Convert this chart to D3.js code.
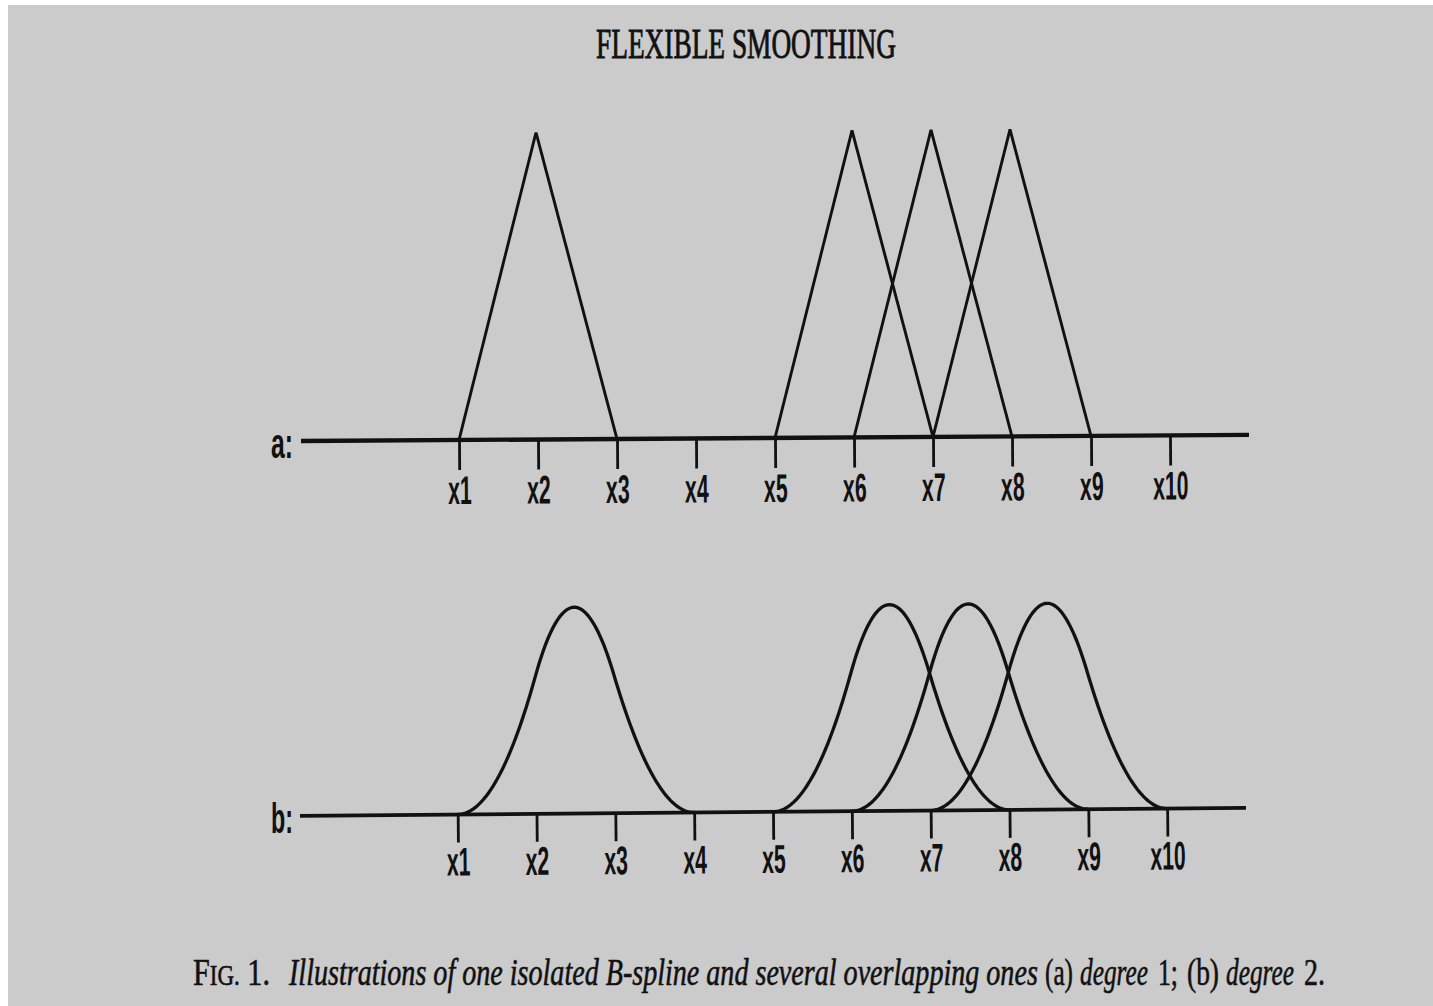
<!DOCTYPE html>
<html>
<head>
<meta charset="utf-8">
<script src="https://cdn.jsdelivr.net/npm/d3@7"></script>
<style>
  body { margin: 0; background: #ffffff; }
  svg { display: block; }
</style>
</head>
<body>
<div id="chart"></div>
<script>
// knots and their labels
const knots = [1, 2, 3, 4, 5, 6, 7, 8, 9, 10];
const knotLabels = ["x1", "x2", "x3", "x4", "x5", "x6", "x7", "x8", "x9", "x10"];
const axisDomain = [-1, 11];

// first knot of each B-spline drawn (one isolated, three overlapping)
const splineStartsA = [1, 5, 6, 7];
const splineStartsB = [1, 5, 6, 7];
const degreeA = 1;
const degreeB = 2;

const panelLabels = ["a:", "b:"];
const titleText = "FLEXIBLE SMOOTHING";

const width = 1433, height = 1006;
const ink = "#111";

const svg = d3.select("#chart").append("svg")
    .attr("width", width)
    .attr("height", height);

// scanned page background
svg.append("rect")
    .attr("x", 8)
    .attr("y", 5)
    .attr("width", width - 8)
    .attr("height", height - 5)
    .attr("fill", "#cbcbcb");

// squeeze a text horizontally so it spans [left, right]
function fitText(sel, left, right, baseY) {
    sel.attr("x", 0).attr("y", 0);
    const w = sel.node().getComputedTextLength();
    sel.attr("transform", `translate(${left}, ${baseY}) scale(${(right - left) / w}, 1)`);
}

// Cox-de Boor recursion on uniform integer knots
function basis(i, p, t) {
    if (p === 0) return (t >= i && t < i + 1) ? 1 : 0;
    return (t - i) / p * basis(i, p - 1, t) + (i + p + 1 - t) / p * basis(i + 1, p - 1, t);
}

function drawPanel(cfg) {
    const x = d3.scaleLinear().domain(axisDomain).range([cfg.left, cfg.right]);
    const y = d3.scaleLinear().domain([0, 1]).range([0, -cfg.unitHeight]);

    // slight tilt of the scanned page
    const g = svg.append("g")
        .attr("transform", `translate(0, ${cfg.baseY}) rotate(${cfg.tilt}, ${x(1)}, 0)`);

    // ticks + labels
    const axis = d3.axisBottom(x)
        .tickValues(knots)
        .tickSize(cfg.tickLen)
        .tickFormat((d, i) => knotLabels[i]);

    const ax = g.append("g").call(axis);
    ax.select(".domain").remove();
    ax.selectAll(".tick line")
        .attr("stroke", ink)
        .attr("stroke-width", 2.8);
    ax.selectAll(".tick text")
        .attr("y", cfg.labelY)
        .attr("dy", 0)
        .attr("fill", ink)
        .attr("font-family", "Liberation Sans, Arial, sans-serif")
        .attr("font-weight", "bold")
        .attr("font-size", "40px")
        .attr("transform", "scale(0.53, 1)");

    // the baseline
    g.append("line")
        .attr("x1", x(axisDomain[0]))
        .attr("x2", x(axisDomain[1]))
        .attr("y1", 0)
        .attr("y2", 0)
        .attr("stroke", ink)
        .attr("stroke-width", cfg.axisWidth);

    // B-splines
    const line = d3.line()
        .x(d => x(d[0]))
        .y(d => y(d[1]));

    cfg.starts.forEach(s => {
        const pts = [];
        const n = 40 * (cfg.degree + 1);
        for (let k = 0; k <= n; k++) {
            const t = s + k * (cfg.degree + 1) / n;
            pts.push([t, basis(s, cfg.degree, t)]);
        }
        g.append("path")
            .attr("d", line(pts))
            .attr("fill", "none")
            .attr("stroke", ink)
            .attr("stroke-width", cfg.lineWidth)
            .attr("stroke-linejoin", "miter");
    });

    // panel label
    const lab = svg.append("text")
        .attr("fill", ink)
        .attr("font-family", "Liberation Sans, Arial, sans-serif")
        .attr("font-weight", "bold")
        .attr("font-size", "42px")
        .text(cfg.label);
    fitText(lab, 271, 293, cfg.baseY + cfg.panelLabelDy);
}

drawPanel({
    left: 301, right: 1249, baseY: 440, tilt: -0.37, unitHeight: 307,
    tickLen: 30, labelY: 64, axisWidth: 4.4, lineWidth: 2.9,
    starts: splineStartsA, degree: degreeA, label: panelLabels[0], panelLabelDy: 18
});

drawPanel({
    left: 300, right: 1246, baseY: 814.5, tilt: -0.48, unitHeight: 275,
    tickLen: 28, labelY: 61, axisWidth: 3.8, lineWidth: 3.3,
    starts: splineStartsB, degree: degreeB, label: panelLabels[1], panelLabelDy: 18
});

// title
const title = svg.append("text")
    .attr("fill", ink)
    .attr("stroke", ink)
    .attr("stroke-width", 0.9)
    .attr("font-family", "Liberation Serif, Times New Roman, serif")
    .attr("font-size", "42px")
    .text(titleText);
fitText(title, 596, 896, 58);

// caption pieces: text, style, left, right
const captionParts = [
    ["Illustrations of one isolated B-spline and several overlapping ones", "italic", 289, 1038],
    ["(a)", "normal", 1045, 1073],
    ["degree", "italic", 1080, 1148],
    ["1;", "normal", 1158, 1178],
    ["(b)", "normal", 1187, 1219],
    ["degree", "italic", 1226, 1294],
    ["2.", "normal", 1304, 1325]
];

const captionY = 985;

// "FIG. 1." with small caps
const fig = svg.append("text")
    .attr("fill", ink)
    .attr("stroke", ink)
    .attr("stroke-width", 0.6)
    .attr("font-family", "Liberation Serif, Times New Roman, serif")
    .attr("font-size", "38px");
fig.append("tspan").text("F");
fig.append("tspan").attr("font-size", "29px").text("IG.");
fig.append("tspan").text(" 1.");
fitText(fig, 193, 270, captionY);

captionParts.forEach(p => {
    const t = svg.append("text")
        .attr("fill", ink)
        .attr("stroke", ink)
        .attr("stroke-width", 0.6)
        .attr("font-family", "Liberation Serif, Times New Roman, serif")
        .attr("font-style", p[1])
        .attr("font-size", "38px")
        .text(p[0]);
    fitText(t, p[2], p[3], captionY);
});
</script>
</body>
</html>
